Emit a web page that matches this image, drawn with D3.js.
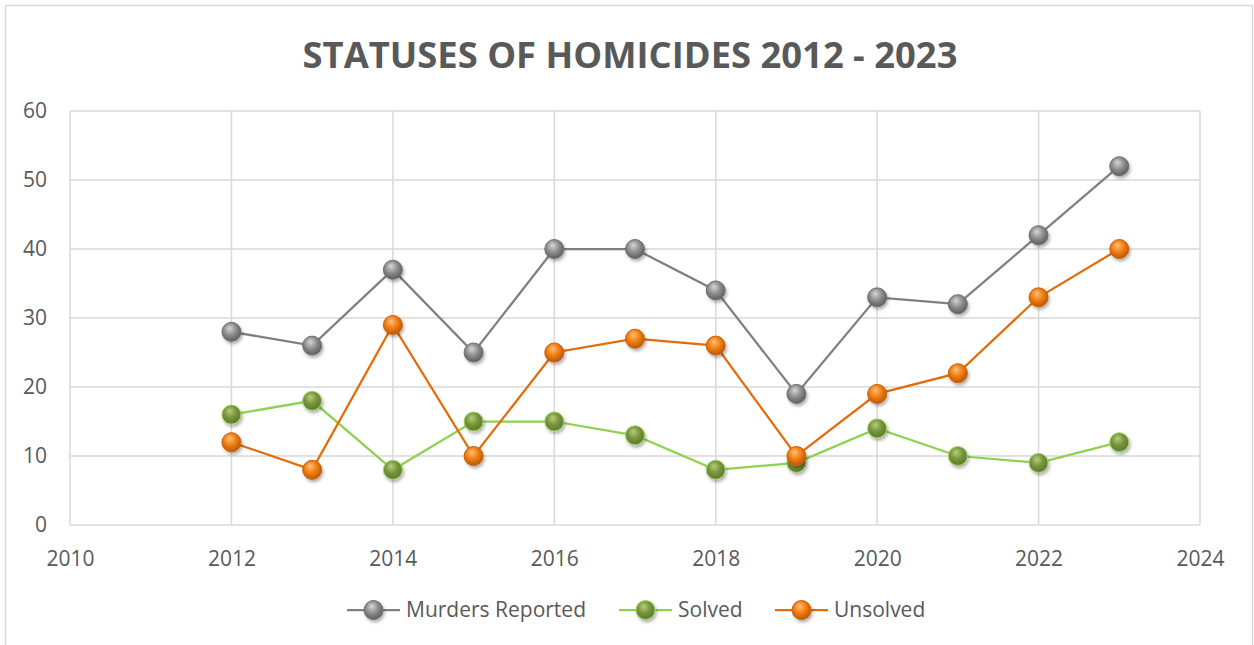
<!DOCTYPE html>
<html>
<head>
<meta charset="utf-8">
<script src="https://cdn.jsdelivr.net/npm/d3@7"></script>
<style>
  body { margin: 0; background: #fff; }
  svg { display: block; font-family: "Open Sans", sans-serif; }
</style>
</head>
<body>
<div id="main"></div>
<script>
// chart data
const years = [2012, 2013, 2014, 2015, 2016, 2017, 2018, 2019, 2020, 2021, 2022, 2023];
const murders = [28, 26, 37, 25, 40, 40, 34, 19, 33, 32, 42, 52];
const solved = [16, 18, 8, 15, 15, 13, 8, 9, 14, 10, 9, 12];
const unsolved = [12, 8, 29, 10, 25, 27, 26, 10, 19, 22, 33, 40];
const xTicks = [2010, 2012, 2014, 2016, 2018, 2020, 2022, 2024];
const yTicks = [0, 10, 20, 30, 40, 50, 60];

const width = 1254, height = 645;
const margin = { top: 111, right: 54, bottom: 120, left: 70 };

const series = [
  { name: "Murders Reported", values: murders, line: "#7f7f7f", id: "g-gray",
    stops: ["#d6d6d6", "#8c8c8c", "#5e5e5e"], ring: "#6f6f6f" },
  { name: "Solved", values: solved, line: "#8fd14f", id: "g-green",
    stops: ["#b5cf7a", "#77933c", "#5d7a2a"], ring: "#9ad45e" },
  { name: "Unsolved", values: unsolved, line: "#e36c09", id: "g-orange",
    stops: ["#ffc07a", "#f07c0f", "#b9580a"], ring: "#c96108" }
];

const svg = d3.select("#main").append("svg")
  .attr("width", width)
  .attr("height", height);

const defs = svg.append("defs");
series.forEach(s => {
  const g = defs.append("radialGradient").attr("id", s.id)
    .attr("cx", "45%").attr("cy", "40%").attr("r", "60%")
    .attr("fx", "40%").attr("fy", "30%");
  g.append("stop").attr("offset", "0%").attr("stop-color", s.stops[0]);
  g.append("stop").attr("offset", "55%").attr("stop-color", s.stops[1]);
  g.append("stop").attr("offset", "100%").attr("stop-color", s.stops[2]);
});
const shadow = defs.append("filter").attr("id", "shadow")
  .attr("x", "-50%").attr("y", "-50%").attr("width", "200%").attr("height", "200%");
shadow.append("feDropShadow").attr("dx", 1.5).attr("dy", 2.5)
  .attr("stdDeviation", 1.8).attr("flood-color", "#000").attr("flood-opacity", 0.3);

// outer frame
svg.append("rect")
  .attr("x", 5.5).attr("y", 5.5)
  .attr("width", width - 7).attr("height", height + 10)
  .attr("fill", "none").attr("stroke", "#d9d9d9").attr("stroke-width", 1.5);

const x = d3.scaleLinear()
  .domain([2010, 2024])
  .range([margin.left, width - margin.right]);

const y = d3.scaleLinear()
  .domain([0, 60])
  .range([height - margin.bottom, margin.top]);

// gridlines
svg.append("g")
  .selectAll("line.h")
  .data(yTicks)
  .join("line")
    .attr("x1", x(2010)).attr("x2", x(2024))
    .attr("y1", d => y(d)).attr("y2", d => y(d))
    .attr("stroke", "#d9d9d9").attr("stroke-width", 1.5);

svg.append("g")
  .selectAll("line.v")
  .data(xTicks)
  .join("line")
    .attr("x1", d => x(d)).attr("x2", d => x(d))
    .attr("y1", y(0)).attr("y2", y(60))
    .attr("stroke", "#d9d9d9").attr("stroke-width", 1.5);

// axes labels
function yAxis(g) {
  g.attr("transform", `translate(${margin.left}, 0)`)
    .call(d3.axisLeft(y).tickValues(yTicks).tickSize(0).tickPadding(23))
    .call(g => g.select(".domain").remove())
    .attr("font-size", "21px")
    .attr("font-family", "Open Sans, sans-serif")
    .selectAll("text").attr("fill", "#595959");
}

function xAxis(g) {
  g.attr("transform", `translate(0,${height - margin.bottom})`)
    .call(d3.axisBottom(x).tickValues(xTicks).tickFormat(d3.format("d")).tickSize(0).tickPadding(26))
    .call(g => g.select(".domain").remove())
    .attr("font-size", "21px")
    .attr("font-family", "Open Sans, sans-serif")
    .selectAll("text").attr("fill", "#595959");
}

svg.append("g").call(xAxis);
svg.append("g").call(yAxis);

// title
const title = svg.append("text")
  .attr("x", 630).attr("y", 68)
  .attr("text-anchor", "middle")
  .attr("font-family", "Open Sans, sans-serif")
  .attr("font-weight", "bold")
  .attr("font-size", 38)
  .attr("fill", "#595959")
  .text("STATUSES OF HOMICIDES 2012 - 2023");
// fit title to the width seen in the picture
const tw = title.node().getComputedTextLength();
title.attr("font-size", 38 * 655 / tw);

const line = d3.line()
  .x((d, i) => x(years[i]))
  .y(d => y(d));

series.forEach(s => {
  svg.append("path")
    .datum(s.values)
    .attr("fill", "none")
    .attr("stroke", s.line)
    .attr("stroke-width", 2.25)
    .attr("d", line);
});

series.forEach(s => {
  svg.append("g")
    .selectAll("circle")
    .data(s.values)
    .join("circle")
      .attr("cx", (d, i) => x(years[i]))
      .attr("cy", d => y(d))
      .attr("r", 9.5)
      .attr("fill", `url(#${s.id})`)
      .attr("stroke", s.ring)
      .attr("stroke-width", 1)
      .attr("filter", "url(#shadow)");
});

// legend
const legendX = [347, 619, 775];
const legend = svg.append("g").attr("transform", "translate(0,610)");
series.forEach((s, i) => {
  const g = legend.append("g").attr("transform", `translate(${legendX[i]},0)`);
  g.append("line").attr("x1", 0).attr("x2", 53)
    .attr("stroke", s.line).attr("stroke-width", 2.25);
  g.append("circle").attr("cx", 26.5).attr("r", 9.5)
    .attr("fill", `url(#${s.id})`).attr("stroke", s.ring)
    .attr("filter", "url(#shadow)");
  g.append("text").attr("x", 59).attr("dy", "0.35em")
    .attr("font-size", "21px").attr("fill", "#595959")
    .text(s.name);
});
</script>
</body>
</html>
